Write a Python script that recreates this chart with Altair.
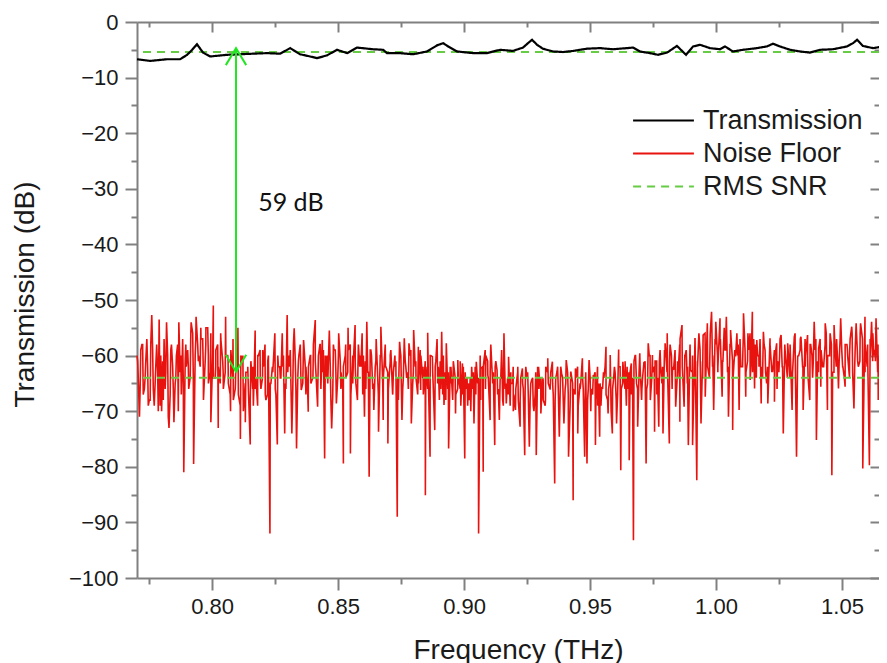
import altair as alt
import numpy as np
import pandas as pd

# ---------------- data ----------------
SERIES = ["Transmission", "Noise Floor", "RMS SNR"]
COLORS = ["#000000", "#e8120e", "#66cc44"]
DASHES = [[1, 0], [1, 0], [8, 6]]

trans_freq = [0.7702, 0.7754, 0.7821, 0.7873, 0.7901, 0.7921, 0.7940, 0.7964, 0.7992, 0.8060,
              0.8111, 0.8163, 0.8218, 0.8270, 0.8310, 0.8349, 0.8389, 0.8417, 0.8456, 0.8496,
              0.8536, 0.8575, 0.8639, 0.8679, 0.8694, 0.8746, 0.8798, 0.8853, 0.8893, 0.8917,
              0.8937, 0.8972, 0.9036, 0.9091, 0.9143, 0.9194, 0.9234, 0.9254, 0.9270, 0.9290,
              0.9313, 0.9353, 0.9393, 0.9433, 0.9488, 0.9540, 0.9591, 0.9647, 0.9671, 0.9698,
              0.9738, 0.9770, 0.9806, 0.9845, 0.9881, 0.9909, 0.9937, 0.9976, 1.0016, 1.0036,
              1.0067, 1.0107, 1.0163, 1.0202, 1.0226, 1.0254, 1.0294, 1.0333, 1.0373, 1.0413,
              1.0464, 1.0520, 1.0544, 1.0560, 1.0583, 1.0623, 1.0663, 1.0679]
trans_db = [-6.7, -7.0, -6.7, -6.7, -5.9, -5.0, -4.0, -5.5, -6.2, -5.9,
            -5.8, -5.7, -5.6, -5.7, -4.7, -5.8, -6.2, -6.5, -6.0, -5.0,
            -5.6, -4.6, -4.9, -5.0, -5.6, -5.6, -5.8, -5.3, -4.2, -3.8,
            -4.4, -5.3, -5.6, -5.6, -5.0, -5.2, -4.6, -3.8, -3.2, -4.1,
            -4.8, -5.3, -5.4, -5.2, -4.8, -4.7, -4.9, -4.7, -4.6, -5.3,
            -5.6, -5.9, -5.5, -4.3, -5.9, -4.4, -4.1, -4.7, -4.9, -4.4,
            -5.3, -5.0, -4.7, -4.4, -3.9, -4.4, -5.0, -5.3, -5.5, -5.0,
            -4.9, -4.4, -3.8, -3.2, -4.3, -4.7, -4.4, -5.0]

noise_bounds = [0.7702, 0.8298, 0.8893, 0.9488, 1.0083, 1.0679]
# spikes / envelope of the noise floor, one list per fifth of the frequency span
noise_seg1 = [-60, -71, -58, -66, -57, -68, -52.7, -69, -58, -53.5, -70, -57, -54, -73, -58, -72,
              -60, -54, -67, -81, -62, -66, -54, -79.5, -53, -60, -57, -68, -55, -65, -72, -51,
              -62, -73, -56, -63, -53, -61, -70, -57, -65, -55, -75, -60, -72, -62, -76, -66,
              -55.5, -69, -59, -64, -58, -67, -92, -62, -56, -76, -62, -56, -74]
noise_seg2 = [-52.7, -62, -74, -55.1, -76.7, -60, -66.2, -57.2, -62, -70.1, -60, -64, -53.6, -69.2,
              -58, -57.2, -78.5, -60, -55.5, -73.1, -59, -68.6, -56.0, -63, -79.4, -58, -55, -77.6,
              -60, -54.5, -68, -62, -56, -71, -53.9, -81.8, -60, -69.8, -57, -73.7, -54.8, -71.6,
              -62, -75.8, -59.9, -66.8, -60, -89, -57.5, -71.6, -56.9, -64, -57.8, -72.2, -55.4,
              -64, -58.4, -66.2, -62, -85.1, -55.9, -78.2, -60.2, -73.4]
noise_seg3 = [-57, -68, -55.7, -68.9, -57.8, -76.7, -62, -62.9, -70.4, -60.8, -66, -61.4, -78.5,
              -64, -68, -62, -72.2, -61.1, -92, -62.3, -80.9, -66, -63.5, -71.6, -64.1, -76.1,
              -62.6, -71.6, -59, -56, -68.6, -60.2, -65, -62, -69.8, -62, -72.8, -62.3, -77.9,
              -64, -76.4, -64.4, -70, -77.9, -62, -70.4, -64.4, -68, -60.5, -66, -61.1, -83,
              -62.9, -74.6, -63.2, -72.2, -60.8, -78.2, -62.9, -86, -62.3, -74, -65, -60.5, -78.2]
noise_seg4 = [-79.4, -60.8, -66, -63.5, -76.1, -62, -74.6, -65.6, -64, -58.4, -70.4, -59.9, -74,
              -62, -72.2, -58.9, -80.6, -61.1, -66, -62, -78.8, -61.4, -93.2, -60, -72.8, -59.6,
              -66, -61.1, -79.4, -57.8, -68, -59.9, -73.7, -61, -72.8, -63, -74, -57.8, -56,
              -75.8, -60, -62.6, -69.2, -64, -71.9, -54.5, -69.2, -59, -76.1, -62.6, -76.1, -60,
              -82.4, -56, -72.2, -56.3, -67.4, -54.2, -64, -52.1, -69.8, -53.9, -62, -53.3,
              -67.4, -55, -53, -71, -55.4, -73.4, -59]
noise_seg5 = [-56, -69.8, -62, -52.4, -67.4, -56, -64.4, -52.1, -65.9, -57.2, -62, -68.6, -55.7,
              -63, -68.6, -56.9, -62, -68.3, -57.8, -63, -56.3, -74, -60, -57.8, -64, -69.8,
              -56.6, -78.2, -60, -56.6, -69.8, -62, -56.3, -68, -60, -53.9, -75.2, -58.7, -65.6,
              -62, -54.2, -69.8, -60, -81.5, -54.5, -62, -65.9, -53.3, -62, -65.6, -58.7, -64,
              -54.8, -69.5, -54.2, -62, -54.2, -80.3, -53, -62, -79.7, -53.9, -60, -53.3, -68,
              -57, -52.4, -60]
# dense core of the noise floor, same fifths
band_seg1 = [-64, -59, -67, -61, -69, -58, -66, -62, -70, -60, -68, -63, -71, -59, -66, -64, -70,
             -60, -65, -58, -62, -56, -64, -57, -61, -55, -63, -58, -60, -56, -64, -59, -62, -57,
             -66, -60, -65, -59, -68, -62, -67, -60, -70, -63, -66, -61, -69, -64, -60, -66, -62,
             -68, -60, -65, -61, -67, -62, -64, -60, -66]
band_seg2 = [-60, -65, -58, -66, -61, -64, -59, -67, -62, -65, -58, -63, -60, -66, -59, -64, -61,
             -68, -58, -63, -60, -66, -62, -64, -59, -67, -61, -65, -58, -62, -60, -66, -63, -59,
             -65, -61, -67, -60, -64, -62, -66, -59, -63, -61, -68, -60, -64, -62, -66, -59, -63,
             -61, -65, -60, -67, -62, -64, -60, -66, -61]
band_seg3 = [-62, -66, -60, -68, -63, -65, -61, -67, -64, -69, -62, -66, -65, -70, -63, -67, -64,
             -68, -62, -60, -64, -58, -63, -61, -66, -64, -69, -65, -67, -63, -70, -66, -68, -64,
             -66, -62, -67, -65, -69, -63, -66, -64, -68, -62, -65, -63, -67, -64, -66, -62, -68,
             -65, -67, -63, -66, -64, -69, -65, -66, -63]
band_seg4 = [-66, -70, -64, -68, -65, -69, -63, -67, -66, -70, -64, -68, -62, -66, -64, -69, -63,
             -67, -61, -65, -63, -68, -62, -66, -60, -64, -62, -67, -61, -65, -59, -63, -61, -66,
             -60, -64, -58, -62, -60, -65, -59, -63, -57, -61, -59, -64, -58, -62, -56, -60, -58,
             -63, -57, -61, -59, -62, -58, -64, -60]
band_seg5 = [-58, -62, -56, -63, -59, -61, -57, -64, -60, -62, -58, -65, -61, -63, -59, -66, -60,
             -62, -58, -64, -61, -63, -59, -60, -57, -62, -60, -64, -58, -61, -57, -63, -59, -62,
             -56, -60, -58, -63, -57, -61, -59, -64, -58, -60, -56, -62, -59, -61, -57, -63, -58,
             -60, -56, -61, -58, -62, -57, -60]
core_seg1 = [-61, -66, -58, -64, -62, -68, -59, -65, -63, -69, -61, -66, -60, -67, -62, -65, -58,
             -63, -57, -61, -59, -64, -56, -60, -58, -62, -57, -61, -55, -63, -60, -64, -58, -65,
             -61, -63, -60, -67, -64, -66, -62, -69, -61, -65, -63, -68, -62, -66, -60, -64, -59,
             -67, -61, -65, -63, -66, -60, -64, -62, -65]
core_seg2 = [-63, -59, -66, -61, -64, -58, -65, -62, -67, -60, -64, -61, -66, -58, -63, -60, -65,
             -62, -67, -59, -64, -61, -66, -60, -63, -58, -65, -62, -64, -60, -67, -61, -63, -59,
             -66, -62, -64, -60, -65, -58, -63, -61, -67, -62, -64, -59, -66, -61, -63, -60, -65,
             -62, -67, -59, -64, -61, -66, -60, -63, -62]
core_seg3 = [-65, -61, -67, -63, -66, -62, -68, -64, -66, -61, -67, -63, -69, -64, -66, -62, -65,
             -60, -62, -59, -61, -63, -65, -62, -67, -64, -68, -66, -64, -69, -65, -67, -63, -68,
             -65, -66, -63, -68, -64, -67, -62, -66, -64, -69, -63, -66, -65, -68, -62, -67, -64,
             -66, -63, -69, -65, -67, -62, -66, -64, -68]
core_seg4 = [-68, -64, -67, -63, -69, -65, -66, -62, -68, -64, -66, -63, -67, -62, -65, -61, -66,
             -63, -64, -60, -66, -62, -64, -61, -65, -60, -63, -61, -64, -59, -62, -60, -63, -58,
             -62, -59, -61, -57, -63, -60, -62, -58, -60, -57, -62, -59, -61, -56, -60, -58, -62,
             -57, -60, -58, -61, -59, -63, -58, -61, -60]
core_seg5 = [-60, -57, -62, -59, -61, -56, -63, -58, -60, -57, -64, -59, -62, -58, -63, -60, -61,
             -57, -62, -59, -60, -58, -63, -56, -61, -59, -62, -57, -60, -58, -64, -59, -61, -57,
             -62, -58, -60, -56, -63, -59, -61, -57, -62, -58, -60, -57, -63, -59, -61, -56, -62,
             -58, -60, -57, -61, -59, -63, -58, -60, -57]

rms_levels = [-5.4, -64.0]
arrow_freq = [0.8095]
arrow_top = [-4.7]
arrow_bottom = [-62.9]
snr_text = ["59 dB"]
snr_freq = [0.8183]
snr_db = [-32.6]

x_major = [0.80, 0.85, 0.90, 0.95, 1.00, 1.05]
x_minor = [0.775, 0.825, 0.875, 0.925, 0.975, 1.025]
y_major = [-100, -90, -80, -70, -60, -50, -40, -30, -20, -10, 0]
y_minor = [-95, -85, -75, -65, -55, -45, -35, -25, -15, -5]

# ---------------- tables ----------------
nf, nv = [], []
groups = [[noise_seg1, noise_seg2, noise_seg3, noise_seg4, noise_seg5],
          [band_seg1, band_seg2, band_seg3, band_seg4, band_seg5],
          [core_seg1, core_seg2, core_seg3, core_seg4, core_seg5]]
shifts = [0.0, 0.5, 0.25]
for shift, segs in zip(shifts, groups):
    for k, seg in enumerate(segs):
        lo, hi = noise_bounds[k], noise_bounds[k + 1]
        step = (hi - lo) / len(seg)
        nf.extend(np.linspace(lo + shift * step, hi + shift * step, len(seg), endpoint=False))
        nv.extend(seg)
noise_df = pd.DataFrame({"freq": nf, "db": nv, "series": "Noise Floor"}).sort_values("freq")
trans_df = pd.DataFrame({"freq": trans_freq, "db": trans_db, "series": "Transmission"})
rms_df = pd.DataFrame({"db": rms_levels, "series": "RMS SNR"})
arrow_df = pd.DataFrame({"freq": arrow_freq, "top": arrow_top, "bottom": arrow_bottom})
text_df = pd.DataFrame({"freq": snr_freq, "db": snr_db, "label": snr_text})

W, H = 742, 556
FONT = "Liberation Sans"
AX = "#808080"
GREEN = "#22e622"

xscale = alt.Scale(domain=[0.7702, 1.0647], nice=False, zero=False)
yscale = alt.Scale(domain=[-100, 0], nice=False, zero=False)

legend = alt.Legend(title=None, orient="none", legendX=495, legendY=82,
                    symbolType="stroke", symbolSize=3700, symbolStrokeWidth=2,
                    labelFont=FONT, labelFontSize=27, labelColor="#1a1a1a",
                    labelOffset=8, padding=0, rowPadding=0, clipHeight=33)
color = alt.Color("series:N", scale=alt.Scale(domain=SERIES, range=COLORS), legend=legend)
dash = alt.StrokeDash("series:N", scale=alt.Scale(domain=SERIES, range=DASHES), legend=legend)

def ax(**kw):
    base = dict(grid=False, domainColor=AX, domainWidth=2, tickColor=AX, tickWidth=2,
                labelFont=FONT, labelFontSize=22, labelColor="#1a1a1a",
                titleFont=FONT, titleFontSize=28, titleFontWeight="normal", titleColor="#1a1a1a")
    base.update(kw)
    return alt.Axis(**base)

noise = alt.Chart(noise_df).mark_line(strokeWidth=1.6).encode(
    x=alt.X("freq:Q", scale=xscale,
            axis=ax(orient="bottom", values=x_major, format=".2f", tickSize=12, labelPadding=6,
                    title="Frequency (THz)", titleX=381, titleY=80, titleBaseline="alphabetic",
                    titleAlign="center")),
    y=alt.Y("db:Q", scale=yscale,
            axis=ax(orient="left", values=y_major, tickSize=12, labelPadding=7,
                    title="Transmission (dB)", titleX=-112, titleY=272, titleAngle=-90,
                    titleAlign="center", titleBaseline="middle")),
    color=color, strokeDash=dash, order=alt.Order("freq:Q"))

rms = alt.Chart(rms_df).mark_rule(strokeWidth=2).encode(
    y=alt.Y("db:Q", scale=yscale,
            axis=ax(orient="left", offset=-W, values=y_major, tickSize=9, labels=False,
                    domain=False, title=None)),
    color=color, strokeDash=dash)

trans = alt.Chart(trans_df).mark_line(strokeWidth=2.2).encode(
    x=alt.X("freq:Q", scale=xscale,
            axis=ax(orient="bottom", values=x_minor, tickSize=6, labels=False, domain=False, title=None)),
    y=alt.Y("db:Q", scale=yscale,
            axis=ax(orient="left", values=y_minor, tickSize=6, labels=False, domain=False, title=None)),
    color=color, strokeDash=dash, order=alt.Order("freq:Q"))

arrow = alt.Chart(arrow_df).mark_rule(color=GREEN, strokeWidth=2).encode(
    x=alt.X("freq:Q", scale=xscale,
            axis=ax(orient="bottom", offset=-H, values=x_major, tickSize=10, labels=False, title=None)),
    y=alt.Y("top:Q", scale=yscale,
            axis=ax(orient="left", offset=-W, values=y_minor, tickSize=5, labels=False, domain=False, title=None)),
    y2="bottom:Q")

head_top = alt.Chart(arrow_df).mark_point(shape="M-0.6,1L0,0L0.6,1", size=1156, filled=False,
                                           color=GREEN, strokeWidth=2, opacity=1).encode(
    x=alt.X("freq:Q", scale=xscale,
            axis=ax(orient="bottom", offset=-H, values=x_minor, tickSize=5, labels=False, domain=False, title=None)),
    y=alt.Y("top:Q", scale=yscale, axis=None))

head_bottom = alt.Chart(arrow_df).mark_point(shape="M-0.6,-1L0,0L0.6,-1", size=1156, filled=False,
                                              color=GREEN, strokeWidth=2, opacity=1).encode(
    x=alt.X("freq:Q", scale=xscale, axis=None),
    y=alt.Y("bottom:Q", scale=yscale, axis=None))

label = alt.Chart(text_df).mark_text(font="Lato", fontSize=25, align="left", baseline="middle",
                                      color="#111111").encode(
    x=alt.X("freq:Q", scale=xscale, axis=None),
    y=alt.Y("db:Q", scale=yscale, axis=None),
    text="label:N")

chart = alt.layer(noise, rms, trans, arrow, head_top, head_bottom, label).resolve_axis(
    x="independent", y="independent"
).properties(
    width=W, height=H,
    padding={"left": 129, "top": 14, "right": 0, "bottom": 85},
    autosize=alt.AutoSizeParams(type="none"),
    background="white",
).configure_view(stroke=None)

chart.save("out.html", embed_options={"renderer": "svg", "actions": False})
